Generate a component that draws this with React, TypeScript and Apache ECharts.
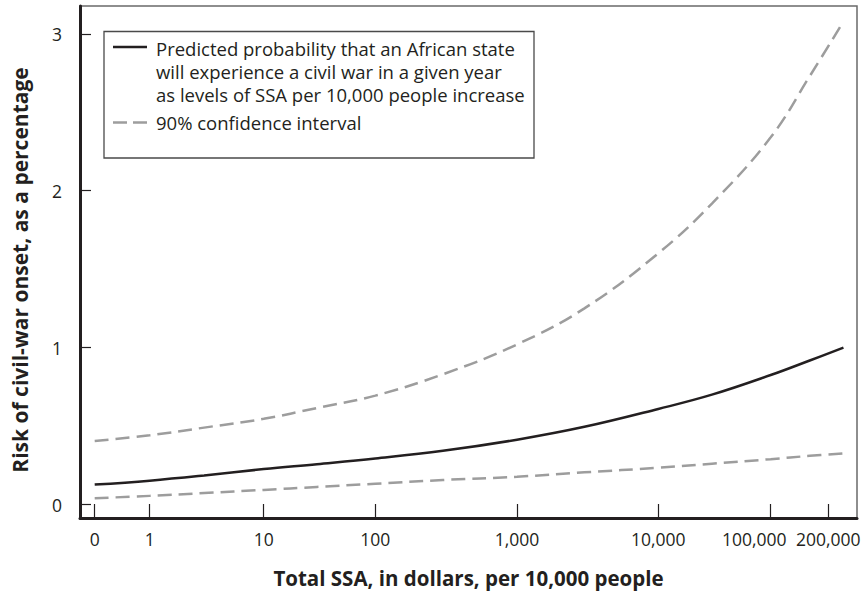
import React, { useEffect, useRef } from 'react';
import * as echarts from 'echarts';

// ---- Axis definition (the original uses an uneven, log-like dollar axis) ----
const X_TICK_VALUES = [0, 1, 10, 100, 1000, 10000, 100000, 200000];
const X_TICK_LABELS = ['0', '1', '10', '100', '1,000', '10,000', '100,000', '200,000'];
// position of each tick along the axis, in axis units
const X_TICK_UNITS = [0, 55, 169, 280.6, 422.3, 563.6, 676, 733.6];
const Y_TICKS = [0, 1, 2, 3];

// ---- Data ----
const SSA = [0, 1, 3, 10, 30, 100, 300, 1000, 3000, 10000, 30000, 100000, 160000, 240000];
const PREDICTED = [0.127, 0.152, 0.185, 0.226, 0.257, 0.293, 0.342, 0.413, 0.495, 0.609, 0.7, 0.825, 0.918, 1.0];
const CI_UPPER = [0.405, 0.441, 0.49, 0.546, 0.615, 0.694, 0.83, 1.02, 1.25, 1.601, 1.918, 2.34, 2.73, 3.078];
const CI_LOWER = [0.04, 0.055, 0.073, 0.093, 0.112, 0.132, 0.156, 0.177, 0.205, 0.234, 0.26, 0.289, 0.31, 0.325];

const LEGEND_MAIN = [
  'Predicted probability that an African state',
  'will experience a civil war in a given year',
  'as levels of SSA per 10,000 people increase',
];
const LEGEND_CI = '90% confidence interval';

const FONT = '"Open Sans", "Noto Sans", sans-serif';
const INK = '#231f20';
const GREY = '#9d9d9d';

// piecewise mapping of a dollar amount onto the axis
function toUnit(v: number): number {
  if (v <= X_TICK_VALUES[1]) return (v / X_TICK_VALUES[1]) * X_TICK_UNITS[1];
  const n = X_TICK_VALUES.length;
  let i = 1;
  while (i < n - 2 && v > X_TICK_VALUES[i + 1]) i++;
  const a = Math.log10(X_TICK_VALUES[i]);
  const b = Math.log10(X_TICK_VALUES[i + 1]);
  const t = (Math.log10(v) - a) / (b - a);
  return X_TICK_UNITS[i] + t * (X_TICK_UNITS[i + 1] - X_TICK_UNITS[i]);
}

export default function App() {
  const ref = useRef<HTMLDivElement>(null);

  useEffect(() => {
    if (!ref.current) return;
    const chart = echarts.init(ref.current, null, { renderer: 'svg' });

    const mk = (ys: number[]) => SSA.map((s, i) => [toUnit(s), ys[i]]);

    const option: any = {
      animation: false,
      backgroundColor: '#ffffff',
      textStyle: { fontFamily: FONT },
      grid: {
        left: 80,
        right: 8,
        top: 6,
        bottom: 71.5,
        show: true,
        borderColor: '#6a6a6a',
        borderWidth: 1.5,
        backgroundColor: 'transparent',
      },
      xAxis: {
        type: 'value',
        min: -14.7,
        max: 762.3,
        name: 'Total SSA, in dollars, per 10,000 people',
        nameLocation: 'middle',
        nameGap: 49,
        nameTextStyle: { fontFamily: FONT, fontSize: 20.5, fontWeight: 'bold', color: INK },
        splitLine: { show: false },
        axisLine: { show: true, onZero: false, lineStyle: { color: INK, width: 3 } },
        axisTick: {
          show: true,
          inside: true,
          length: 14,
          customValues: X_TICK_UNITS,
          lineStyle: { color: INK, width: 1.2 },
        },
        axisLabel: {
          show: true,
          margin: 12,
          customValues: X_TICK_UNITS,
          fontFamily: FONT,
          fontSize: 17.5,
          color: INK,
          formatter: (v: number) => {
            let best = 0;
            for (let i = 1; i < X_TICK_UNITS.length; i++) {
              if (Math.abs(X_TICK_UNITS[i] - v) < Math.abs(X_TICK_UNITS[best] - v)) best = i;
            }
            const lbl = X_TICK_LABELS[best];
            return best === 6 ? `{shift|${lbl}}` : lbl;
          },
          rich: {
            shift: { padding: [0, 33, 0, 0], fontFamily: FONT, fontSize: 17.5, color: INK },
          },
        },
      },
      yAxis: {
        type: 'value',
        min: -0.086,
        max: 3.177,
        name: 'Risk of civil-war onset, as a percentage',
        nameLocation: 'middle',
        nameGap: 50,
        nameTextStyle: {
          fontFamily: FONT,
          fontSize: 21,
          fontWeight: 'bold',
          color: INK,
          padding: [0, 16, 0, 0],
        },
        splitLine: { show: false },
        axisLine: { show: true, onZero: false, lineStyle: { color: INK, width: 3 } },
        axisTick: {
          show: true,
          inside: true,
          length: 11,
          customValues: Y_TICKS,
          lineStyle: { color: INK, width: 1.2 },
        },
        axisLabel: {
          show: true,
          margin: 18,
          customValues: Y_TICKS,
          fontFamily: FONT,
          fontSize: 17.5,
          color: INK,
        },
      },
      series: [
        {
          name: 'Predicted probability',
          type: 'line',
          data: mk(PREDICTED),
          showSymbol: false,
          smooth: 0.4,
          lineStyle: { color: INK, width: 2.5 },
          z: 3,
        },
        {
          name: '90% CI upper',
          type: 'line',
          data: mk(CI_UPPER),
          showSymbol: false,
          smooth: 0.4,
          lineStyle: { color: GREY, width: 2.5, type: [14, 7] },
          z: 2,
        },
        {
          name: '90% CI lower',
          type: 'line',
          data: mk(CI_LOWER),
          showSymbol: false,
          smooth: 0.4,
          lineStyle: { color: GREY, width: 2.5, type: [14, 7] },
          z: 2,
        },
      ],
      graphic: [
        {
          type: 'group',
          z: 10,
          children: [
            {
              type: 'rect',
              shape: { x: 104, y: 31.5, width: 430, height: 126.5 },
              style: { fill: '#ffffff', stroke: '#4a4a4a', lineWidth: 1.3 },
            },
            {
              type: 'line',
              shape: { x1: 113, y1: 47, x2: 147, y2: 47 },
              style: { stroke: INK, lineWidth: 2.5 },
            },
            ...LEGEND_MAIN.map((t, i) => ({
              type: 'text',
              x: 156,
              y: 48 + i * 23,
              style: {
                text: t,
                fill: INK,
                font: `18.5px ${FONT}`,
                textVerticalAlign: 'middle',
                verticalAlign: 'middle',
              },
            })),
            {
              type: 'line',
              shape: { x1: 113, y1: 122.5, x2: 147, y2: 122.5 },
              style: { stroke: GREY, lineWidth: 2.5, lineDash: [14, 6] },
            },
            {
              type: 'text',
              x: 156,
              y: 122,
              style: {
                text: LEGEND_CI,
                fill: INK,
                font: `18.5px ${FONT}`,
                textVerticalAlign: 'middle',
                verticalAlign: 'middle',
              },
            },
          ],
        },
      ],
    };

    chart.setOption(option);
    return () => chart.dispose();
  }, []);

  return (
    <div
      ref={ref}
      style={{ position: 'fixed', left: 0, top: 0, width: 865, height: 593, background: '#fff' }}
    />
  );
}
